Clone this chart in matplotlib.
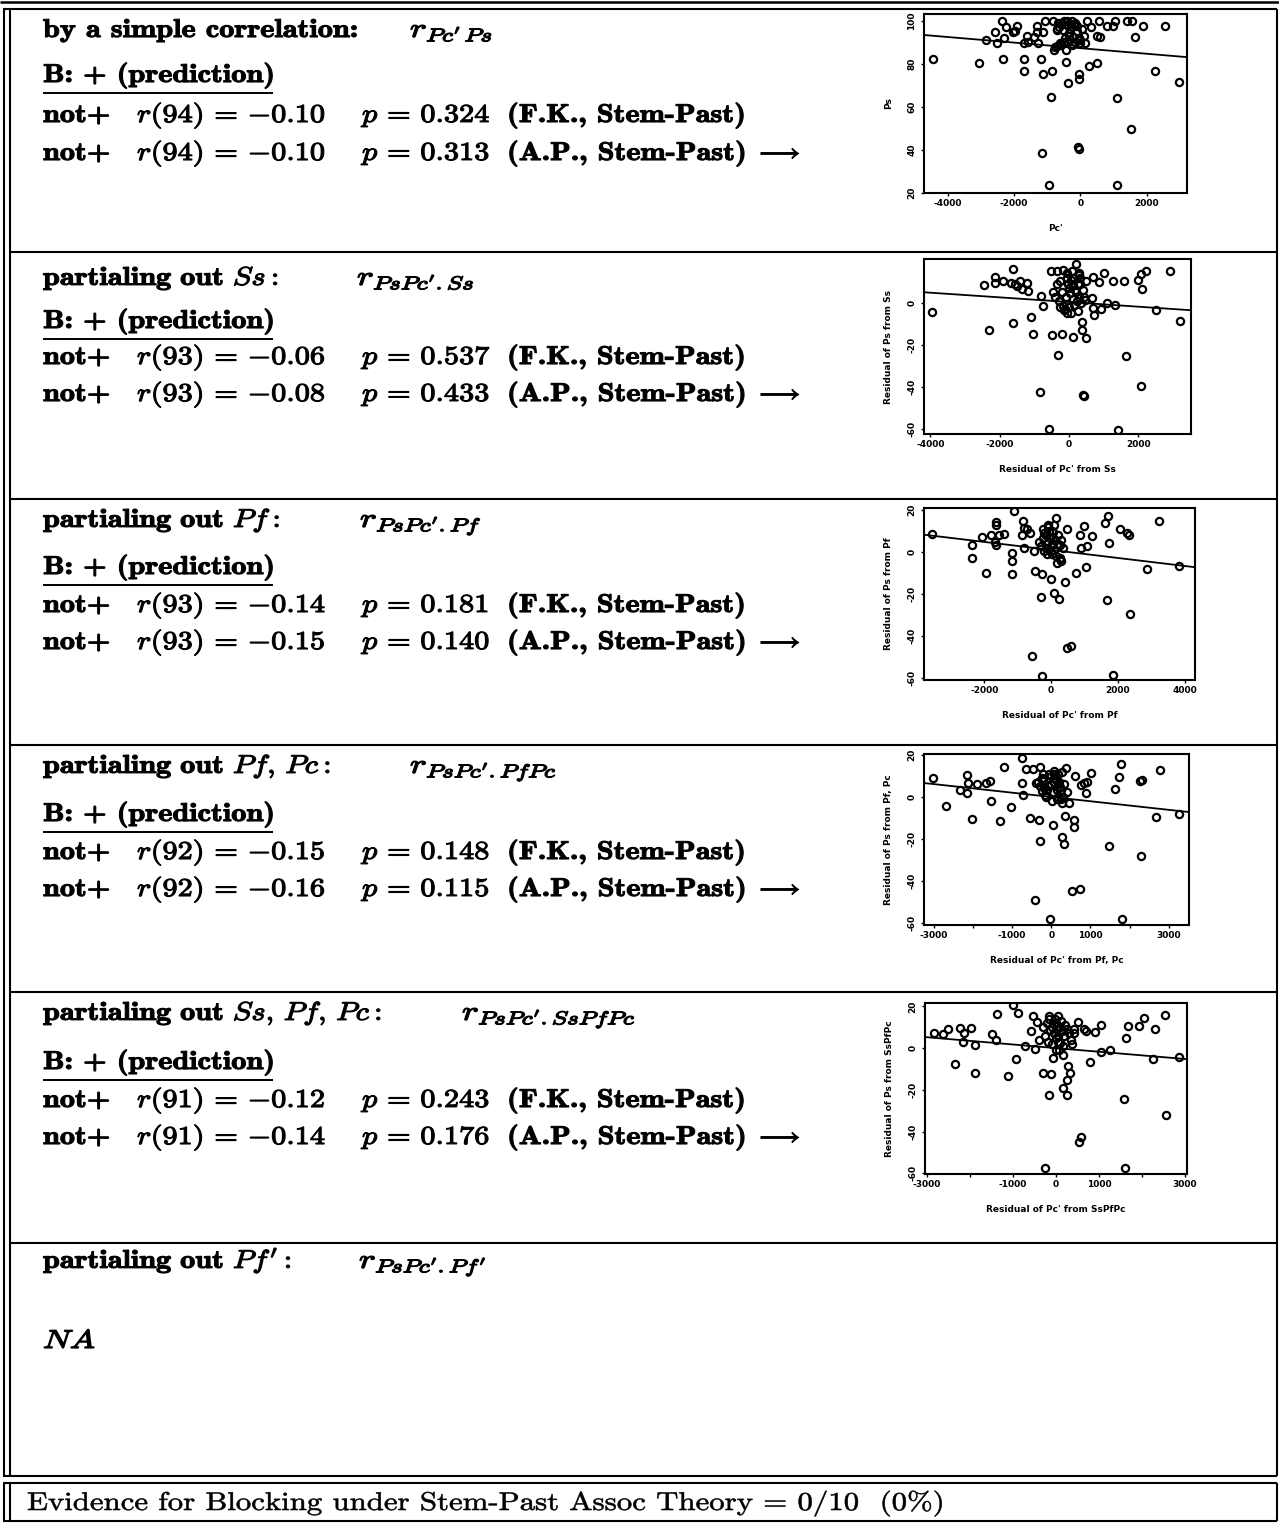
import numpy as np
import matplotlib
matplotlib.use("Agg")
import matplotlib.pyplot as plt
import matplotlib.patheffects as pe
from matplotlib.lines import Line2D
from matplotlib.transforms import Affine2D

# ---------------------------------------------------------------- data
row_titles = [
    "by a simple correlation:",
    r"$\mathbf{partialing\ out\ }Ss\mathbf{:}$",
    r"$\mathbf{partialing\ out\ }Pf\mathbf{:}$",
    r"$\mathbf{partialing\ out\ }Pf,\,Pc\mathbf{:}$",
    r"$\mathbf{partialing\ out\ }Ss,\,Pf,\,Pc\mathbf{:}$",
    r"$\mathbf{partialing\ out\ }Pf'\mathbf{:}$",
]
row_formulas = [
    r"$r_{Pc'\,Ps}$",
    r"$r_{PsPc'.Ss}$",
    r"$r_{PsPc'.Pf}$",
    r"$r_{PsPc'.PfPc}$",
    r"$r_{PsPc'.SsPfPc}$",
    r"$r_{PsPc'.Pf'}$",
]
prediction = "B: + (prediction)"
verdicts = ["not+", "not+", "not+", "not+", "not+"]
dfs = [94, 93, 93, 92, 91]
r_fk = [-0.10, -0.06, -0.14, -0.15, -0.12]
p_fk = [0.324, 0.537, 0.181, 0.148, 0.243]
r_ap = [-0.10, -0.08, -0.15, -0.16, -0.14]
p_ap = [0.313, 0.433, 0.140, 0.115, 0.176]
source_fk = "(F.K., Stem-Past)"
source_ap = "(A.P., Stem-Past)"
evidence_hits = 0
evidence_total = 10

# scatter panels: Pc' (or its residual) vs Ps (or its residual)
simple_x = [-4448, -3042, -2842, -2520, -2560, -2369, -2300, -2319, -2239, -2018,
            -1958, -1898, -1697, -1697, -1697, -1616, -1566, -1396, -1315, -1265,
            -1315, -1195, -1114, -1145, -1114, -1054, -954, -894, -853, -813,
            -763, -713, -663, -602, -522, -482, -442, -412, -361, -331,
            -261, -211, -161, -110, -70, -50, -40, -30, -10, 140,
            191, 271, 311, 512, 552, 512, 592, 793, 994, 1054,
            1094, 1094, 1395, 1556, 1516, 1637, 1877, 2259, 2540, 2962,
            -800, -700, -600, -500, -450, -350, -300, -250, -200, -150,
            -100, -50, 0, 50, 100, -650, -550, -400, -700, -380, -430, -250]
simple_y = [82.3, 80.1, 91.0, 89.4, 94.9, 100, 91.8, 82.1, 97.2, 94.9,
            95.3, 97.5, 89.7, 82.3, 76.7, 92.9, 90.2, 92.5, 97.5, 89.7,
            94.7, 82.3, 75.4, 38.2, 94.9, 100, 23.4, 64.7, 76.7, 100,
            87.9, 95.6, 98.8, 89.4, 95.6, 100, 80.7, 98.0, 71.1, 94.1,
            100, 92.5, 90.2, 97.5, 41.3, 73.0, 75.1, 40.2, 89.4, 89.7,
            100, 78.9, 97.2, 92.9, 100, 80.4, 92.5, 97.5, 97.5, 100,
            23.4, 63.9, 100, 100, 49.5, 92.5, 97.5, 76.8, 97.5, 71.4,
            86.5, 88.0, 88.5, 90.0, 92.0, 93.0, 96.0, 97.0, 98.0, 99.0,
            95.0, 92.0, 91.0, 96.0, 93.0, 97.0, 99.0, 100, 96.0, 90.0, 86.5, 88.5]

ss_x = [-3943, -2439, -2304, -2150, -2130, -1899, -1629, -1629, -1687, -1571,
        -1504, -1417, -1369, -1224, -1176, -1108, -1031, -819, -762, -839,
        -569, -530, -492, -453, -356, -308, -260, -202, -164, -183,
        -145, -67, -19, 29, 77, 125, 202, 299, 318, 366,
        366, 415, 434, 492, 492, 463, 665, 684, 704, 723,
        858, 916, 1012, 1089, 1282, 1340, 1581, 1648, 1417, 1976,
        2072, 2111, 2072, 2208, 2497, 2902, 3191,
        -200, -100, 0, 100, 150, 200, 250, 300, -50, 50, 350, -300, 400,
        -400, -250, 120, 260, 330, 180, -120, 60, 420, -350, 280, -60, 10, 230, 90]
ss_y = [-4.1, 8.6, -13.0, 12.4, 9.5, 10.2, 16.2, -9.8, 9.5, 9.2,
        7.9, 10.2, 6.7, 9.5, 5.7, -6.7, -14.9, 3.2, -1.3, -42.5,
        -60.0, 15.2, -15.2, 5.1, 15.2, -24.8, 10.2, -14.6, 15.6, -1.6,
        -3.5, -4.8, 8.9, 4.8, 15.2, -16.2, 18.4, 13.3, 8.9, -9.2,
        -13.0, -43.8, -44.4, -16.8, 10.2, 1.6, 2.2, -2.5, 12.1, -5.7,
        9.8, -2.9, 14.0, 0.0, 10.2, -1.0, 10.2, -25.4, -60.3, 10.8,
        13.7, 6.7, -39.7, 15.2, -3.5, 15.2, -8.6,
        5, 3, 7, 2, -1, 5, 9, 3, 12, 11, 0, 1, 6,
        3, -2, 12, -4, 12, 6, -3, -5, 3, 9, 14, 14, -2, 1, 9]

pf_x = [-3560, -2360, -2380, -1940, -2080, -1800, -1660, -1640, -1680, -1560,
        -1420, -1640, -1180, -1160, -1160, -1100, -840, -880, -820, -820,
        -720, -620, -580, -520, -490, -360, -300, -280, -260, -240,
        -220, -160, -90, -20, 0, 60, 100, 160, 240, 260,
        260, 420, 460, 600, 480, 740, 860, 980, 900, 1040,
        1080, 1220, 1680, 1620, 1700, 1720, 1840, 2060, 2260, 2360,
        2340, 2880, 3220, 3820,
        -100, 0, 50, 100, 150, 200, 250, -50, 80, -150, 300, 20,
        -200, -80, 120, 220, 300, -300, 30, 180, -120, 70, 350, -250]
pf_y = [8.7, 3.6, -2.7, -9.7, 7.4, 8.4, 14.4, 12.8, 4.9, 8.4,
        8.7, 3.6, -0.2, -4.0, -10.3, 19.5, 14.7, 8.1, 2.1, 11.6,
        11.3, 9.4, -49.6, 0.8, -9.0, 4.9, -21.1, -10.3, -59.1, 11.3,
        0.5, 8.1, 12.8, 6.8, -12.8, 9.7, -19.2, 16.3, -22.3, -2.7,
        3.3, -14.1, -45.5, -44.5, 11.3, -10.0, 8.4, 12.5, 2.1, -7.1,
        3.0, 7.8, -22.7, 13.8, 17.3, 4.6, -58.5, 11.3, 9.4, -29.6,
        8.4, -8.1, 14.7, -6.5,
        5, 3, 7, 1, -2, 4, -3, 10, 13, 2, 6, -1,
        9, 12, 6, 8, -4, 3, 10, -5, -1, 4, 2, 7]

pfpc_x = [-3021, -2681, -2340, -2153, -2136, -2153, -2034, -1898, -1659, -1574,
          -1540, -1302, -1217, -1030, -740, -757, -723, -655, -536, -468,
          -417, -400, -315, -298, -281, -247, -213, -145, -26, 43,
          60, 128, 213, 264, 281, 281, 315, 349, 366, 451,
          536, 570, 587, 604, 723, 757, 842, 893, 910, 1013,
          1472, 1625, 1728, 1779, 1796, 2255, 2306, 2289, 2681, 2766, 3259,
          -300, -200, -100, 0, 50, 100, 150, 200, -50, -150, 250, 300, 20,
          -250, -350, 60, 180, 320, -80, 140, 240, -180, 400, 80, -20]
pfpc_y = [8.7, -4.4, 3.1, 10.3, 6.5, 1.9, -10.6, 6.2, 6.5, 7.5,
          -2.2, -11.5, 14.0, -4.7, 18.4, 6.5, 0.9, 13.4, -10.0, 13.4,
          -49.2, 6.5, -11.2, -21.2, 14.0, 2.8, 10.6, -0.3, -58.3, -13.4,
          10.6, 8.1, 4.4, 11.8, -2.8, -19.3, -22.4, -9.3, 13.7, -3.1,
          -44.9, -11.2, -14.6, 10.0, -43.9, 5.6, 6.5, 1.6, 7.2, 11.2,
          -23.4, 3.7, 9.3, 15.6, -58.3, 7.5, 8.1, -28.0, -9.7, 12.5, -8.1,
          5, 8, 3, 6, 2, 9, -1, 7, 11, 1, 3, 0, -2,
          9, 7, 12, 11, 6, 5, 3, -1, 4, 2, 7, 10]

sspfpc_x = [-2832, -2615, -2507, -2337, -2228, -2166, -2135, -1981, -1888, -1888,
            -1486, -1393, -1377, -1114, -1006, -928, -882, -727, -588, -526,
            -480, -433, -387, -309, -248, -170, -170, -139, -108, -77,
            -46, 0, 46, 93, 155, 170, 248, 263, 294, 325,
            356, 433, 511, 542, 588, 650, 712, 805, 913, 1052,
            1052, 1253, 1594, 1625, 1609, 1671, 1934, 2042, 2259, 2305,
            2537, 2553, 2863,
            -150, -100, -50, 0, 50, 100, 150, 200, -200, -100, 250, 0, 80,
            -300, -250, 20, 120, 300, 380, -20, 60, 220, -180, 160, 420]
sspfpc_y = [7.2, 6.6, 9.1, -7.8, 9.8, 2.7, 7.2, 9.4, -12.0, 1.4,
            6.6, 4.0, 16.5, -13.6, 20.5, -5.0, 16.8, 0.8, 8.2, 15.5,
            -0.5, 12.3, 4.0, -11.7, -57.4, -22.6, 15.2, 8.8, -12.6, -4.6,
            11.4, -0.8, 15.2, 2.4, -3.4, -19.0, -22.6, -15.5, -8.5, -12.0,
            4.0, 7.2, 12.6, -45.0, -42.4, 9.1, 8.2, -6.6, 7.8, 11.0,
            -1.8, -0.8, -24.2, 4.6, -57.4, 10.7, 10.7, 14.6, -5.0, 9.1,
            15.8, -32.2, -4.3,
            14, 10, 7, 5, 3, 10, 8, 6, 12, 2, 9, 12, -1,
            10, 6, 9, 13, 7, 2, 14, 6, 11, 3, 1, 9]

fit_intercept = [87.2, 0.42, 1.1, -0.13, 0.0]
fit_slope = [-0.0013, -0.00111, -0.00191, -0.00204, -0.00174]

panel_x = [simple_x, ss_x, pf_x, pfpc_x, sspfpc_x]
panel_y = [simple_y, ss_y, pf_y, pfpc_y, sspfpc_y]
panel_xlabel = ["Pc'", "Residual of Pc' from Ss", "Residual of Pc' from Pf",
                "Residual of Pc' from Pf, Pc", "Residual of Pc' from SsPfPc"]
panel_ylabel = ["Ps", "Residual of Ps from Ss", "Residual of Ps from Pf",
                "Residual of Ps from Pf, Pc", "Residual of Ps from SsPfPc"]
panel_xticks = [[-4000, -2000, 0, 2000],
                [-4000, -2000, 0, 2000],
                [-2000, 0, 2000, 4000],
                [-3000, -2000, -1000, 0, 1000, 2000, 3000],
                [-3000, -2000, -1000, 0, 1000, 2000, 3000]]
panel_xticklabels = [["-4000", "-2000", "0", "2000"],
                     ["-4000", "-2000", "0", "2000"],
                     ["-2000", "0", "2000", "4000"],
                     ["-3000", "", "-1000", "0", "1000", "", "3000"],
                     ["-3000", "", "-1000", "0", "1000", "", "3000"]]
panel_yticks = [[20, 40, 60, 80, 100],
                [-60, -40, -20, 0],
                [-60, -40, -20, 0, 20],
                [-60, -40, -20, 0, 20],
                [-60, -40, -20, 0, 20]]

# ---------------------------------------------------------------- figure
W, H = 1279, 1527
fig = plt.figure(figsize=(W / 100, H / 100), dpi=100)
fig.patch.set_facecolor("white")
plt.rcParams["mathtext.fontset"] = "cm"


def fx(x):
    return x / W


def fy(y):
    return 1 - y / H


def hline(y, x0, x1, lw=1.5):
    fig.add_artist(Line2D([fx(x0), fx(x1)], [fy(y), fy(y)],
                          transform=fig.transFigure, color="black", lw=lw,
                          solid_capstyle="butt"))


def vline(x, y0, y1, lw=1.5):
    fig.add_artist(Line2D([fx(x), fx(x)], [fy(y0), fy(y1)],
                          transform=fig.transFigure, color="black", lw=lw,
                          solid_capstyle="butt"))


class Widen(pe.AbstractPathEffect):
    """Draw glyphs stretched horizontally about x0 (display px), with an outline."""

    def __init__(self, x0, sx, lw):
        super().__init__()
        self.x0, self.sx, self.lw = x0, sx, lw

    def draw_path(self, renderer, gc, tpath, affine, rgbFace=None):
        stretch = (Affine2D().translate(-self.x0, 0)
                   .scale(self.sx, 1).translate(self.x0, 0))
        gc0 = renderer.new_gc()
        gc0.copy_properties(gc)
        if self.lw:
            gc0.set_linewidth(self.lw)
            gc0.set_foreground("black")
        renderer.draw_path(gc0, tpath, affine + stretch, rgbFace)
        gc0.restore()


FS = 18.5
SX = 1.18


def put(x, y, s, family=None, fs=FS, sx=SX, lw=0.8):
    kw = {}
    if family:
        kw["family"] = family
    fig.text(fx(x), fy(y), s, fontsize=fs, va="baseline", ha="left",
             path_effects=[Widen(x, sx, lw)], **kw)


# table frame
hline(1.5, 0, W, lw=1.8)
row_lines = [8.5, 251.7, 498.6, 745.5, 992.3, 1242.7, 1476]
hline(row_lines[0], 3, 1277)
for yy in row_lines[1:-1]:
    hline(yy, 9.5, 1276.5)
hline(row_lines[-1], 3, 1277)
vline(3.5, row_lines[0], row_lines[-1])
vline(9.5, row_lines[0], row_lines[-1])
vline(1276.5, row_lines[0], row_lines[-1])

# summary box
hline(1483, 3, 1277)
hline(1521, 3, 1277)
vline(3.5, 1483, 1521)
vline(9.5, 1483, 1521)
vline(1276.5, 1483, 1521)

# row text
title_y = [37, 285, 527, 773, 1020, 1268]
formula_x = [410, 357, 360, 410, 462, 359]
b_y = [82, 328, 574, 821, 1069]
under_y = [93, 339, 585, 832, 1080]
l1_y = [122, 364, 612, 859, 1107]
l2_y = [160, 401, 649, 896, 1144]

for i in range(6):
    if i == 0:
        put(43, title_y[i], row_titles[i], family="cmb10")
    else:
        put(43, title_y[i], row_titles[i])
    put(formula_x[i], title_y[i], row_formulas[i], fs=19, sx=1.35, lw=0.9)


def r_text(df, r):
    sign = "{-}" if r < 0 else ""
    return r"$r\mathbf{(%d)}\,=\,%s\mathbf{%.2f}$" % (df, sign, abs(r))


def p_text(p):
    return r"$p\,=\,\mathbf{%.3f}$" % p


for i in range(5):
    put(43, b_y[i], prediction, family="cmb10")
    hline(under_y[i], 43, 273, lw=1.4)
    for yy, rv, pv, src, arrow in [(l1_y[i], r_fk[i], p_fk[i], source_fk, False),
                                   (l2_y[i], r_ap[i], p_ap[i], source_ap, True)]:
        put(43, yy, verdicts[i], family="cmb10")
        put(137, yy, r_text(dfs[i], rv))
        put(362, yy, p_text(pv))
        put(507, yy, src, family="cmb10")
        if arrow:
            put(755, yy, r"$\longrightarrow$", sx=1.0)

put(43, 1348, r"$NA$", sx=1.3, lw=1.0)

pct = 100 * evidence_hits / evidence_total
put(27, 1510,
    "Evidence for Blocking under Stem-Past Assoc Theory = %d/%d  (%d%%)"
    % (evidence_hits, evidence_total, pct), family="cmr10", sx=1.2, lw=0.4)

# ---------------------------------------------------------------- scatter panels
panel_box = [(924, 14, 1187, 193),
             (924, 259, 1191, 434),
             (924, 508, 1195, 680),
             (924, 754, 1189, 925),
             (925, 1003, 1187, 1174)]
panel_xlim = [(-4708, 3214), (-4184, 3518), (-3810, 4310), (-3251, 3515), (-3041, 3048)]
panel_ylim = [(19.8, 103.1), (-62.4, 20.9), (-60.9, 21.1), (-61.0, 20.3), (-60.3, 21.6)]

for k in range(5):
    l, t, r, b = panel_box[k]
    ax = fig.add_axes([fx(l), fy(b), (r - l) / W, (b - t) / H])
    ax.plot(panel_x[k], panel_y[k], "o", mfc="none", mec="black", ms=5.2, mew=1.6)
    ax.axline((0, fit_intercept[k]), slope=fit_slope[k], color="black", lw=1.3)
    ax.set_xlim(*panel_xlim[k])
    ax.set_ylim(*panel_ylim[k])
    ax.set_xticks(panel_xticks[k])
    ax.set_xticklabels(panel_xticklabels[k], fontsize=6.5, fontweight="bold")
    ax.set_yticks(panel_yticks[k])
    ax.set_yticklabels([str(v) for v in panel_yticks[k]], fontsize=6.5,
                       fontweight="bold", rotation=90, va="center")
    ax.tick_params(axis="both", direction="out", length=2.5, width=1.0)
    ax.tick_params(axis="x", pad=2)
    ax.tick_params(axis="y", pad=3)
    for sp in ax.spines.values():
        sp.set_linewidth(1.5)
    ax.set_xlabel(panel_xlabel[k], fontsize=6.5, fontweight="bold")
    ax.set_ylabel(panel_ylabel[k], fontsize=6.5, fontweight="bold")
    ax.xaxis.set_label_coords(0.5, -31 / (b - t))
    ax.yaxis.set_label_coords(-31 / (r - l), 0.5)

fig.savefig("out.png", dpi=100, facecolor="white")
